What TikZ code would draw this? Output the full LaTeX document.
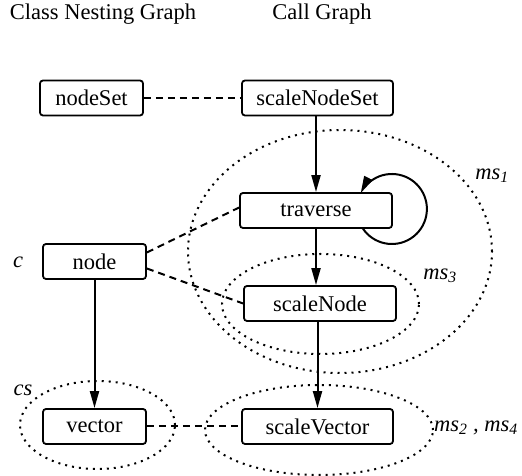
\documentclass[tikz,border=0pt]{standalone}
\usepackage{fontspec}
\setmainfont{Liberation Serif}
\usetikzlibrary{arrows.meta}
\begin{document}
\begin{tikzpicture}[x=1pt,y=1pt,
  font=\fontsize{22.5}{26}\selectfont,
  box/.style={draw,line width=1.8pt,rounded corners=3pt,fill=white,
    inner sep=0pt,minimum height=35pt},
  smallbox/.style={box,minimum width=103pt},
  widebox/.style={box,minimum width=151pt},
  call/.style={line width=2pt,-{Triangle[length=17pt,width=9pt]}},
  link/.style={line width=2pt,dash pattern=on 7pt off 5pt},
  group/.style={line width=2pt,dash pattern=on 2pt off 5pt},
  tag/.style={font=\fontsize{22.5}{26}\selectfont\itshape,inner sep=0pt}]
\useasboundingbox (0,0) rectangle (522,476);

% headings
\node (h1) at (103,462) {Class Nesting Graph};
\node (h2) at (322,462) {Call Graph};

% dotted groupings
\draw[group] (340,224.5) ellipse [x radius=152, y radius=121.5];
\draw[group] (320.5,172) ellipse [x radius=98.5, y radius=50];
\draw[group] (319,46) ellipse [x radius=114, y radius=45];
\draw[group] (97.5,51) ellipse [x radius=77.5, y radius=44];

% classes
\node[smallbox] (nodeSet) at (91.5,378) {nodeSet};
\node[smallbox] (node) at (94.5,214.5) {node};
\node[smallbox] (vector) at (94.5,49.5) {vector};

% methods
\node[widebox] (scaleNodeSet) at (317.5,378) {scaleNodeSet};
\node[widebox,minimum width=152pt] (traverse) at (316,265.5) {traverse};
\node[widebox,minimum width=152pt] (scaleNode) at (320,172.5) {scaleNode};
\node[widebox] (scaleVector) at (317.5,49.5) {scaleVector};

% class to method links
\draw[link] (nodeSet.east) -- (scaleNodeSet.west);
\draw[link] ([yshift=9pt]node.east) -- ([yshift=3pt]traverse.west);
\draw[link] ([yshift=-7pt]node.east) -- (scaleNode.west);
\draw[link] (vector.east) -- (scaleVector.west);

% nesting and calls
\draw[call] (node) -- (vector);
\draw[call] (traverse.north |- scaleNodeSet.south) -- (traverse.north);
\draw[call] (traverse.south) -- (traverse.south |- scaleNode.north);
\draw[call] (scaleVector.north |- scaleNode.south) -- (scaleVector.north);

% recursive call
\coordinate (loop) at ([shift={(-1pt,1.5pt)}]traverse.east);
\draw[call] (loop) ++(213:35pt) arc[start angle=213, end angle=513, radius=35pt];

% group labels
\node[tag] (l1) at (492,300) {ms\textsubscript{1}};
\node[tag] (l3) at (440,200) {ms\textsubscript{3}};
\node[tag,anchor=west] (l24) at (434,48) {ms\textsubscript{2} , ms\textsubscript{4}};
\node[tag] (lc) at (18,214) {c};
\node[tag] (lcs) at (23,86) {cs};
\end{tikzpicture}
\end{document}
